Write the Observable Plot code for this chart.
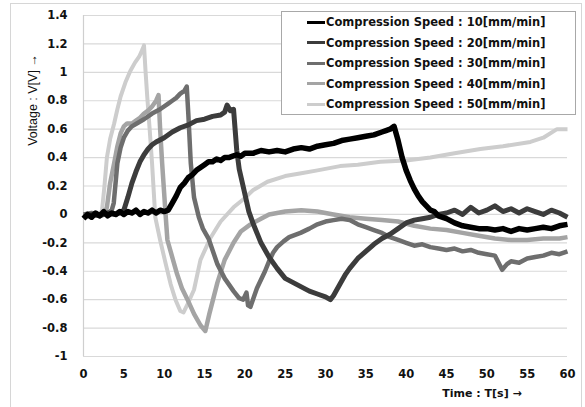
<!DOCTYPE html>
<html>
<head>
<meta charset="utf-8">
<script src="https://cdn.jsdelivr.net/npm/d3@7"></script>
<script src="https://cdn.jsdelivr.net/npm/@observablehq/plot@0.6"></script>
<style>
  html, body { margin: 0; padding: 0; background: #fff; overflow: hidden; }
  #wrap { position: relative; width: 585px; height: 407px; overflow: hidden; font-family: "DejaVu Sans", sans-serif; }
  #frame { position: absolute; left: 10px; top: 3px; width: 572px; height: 430px; border: 1px solid #d6d6d6; box-sizing: border-box; pointer-events: none; }
  #chart { position: absolute; left: 0; top: 0; }
  #legend { position: absolute; left: 281px; top: 11px; width: 295px; height: 104px; border: 1px solid #a8a8a8; background: #fff; box-sizing: border-box; }
  .row { position: absolute; left: 0; height: 20px; display: flex; align-items: center; font-weight: bold; font-size: 11.5px; color: #111; white-space: nowrap; }
  .sw { width: 18px; height: 3px; margin-left: 25px; margin-right: 1px; }
  #ylab { position: absolute; left: 33px; top: 100px; transform: translate(-50%, -50%) rotate(-90deg); font-family: "Liberation Sans", sans-serif; font-size: 12.5px; color: #111; white-space: nowrap; }
  #xlab { position: absolute; left: 482px; top: 393px; transform: translate(-50%, -50%); font-size: 11px; font-weight: bold; color: #111; white-space: nowrap; }
</style>
</head>
<body>
<div id="wrap">
  <div id="frame"></div>
  <div id="chart"></div>
  <div id="legend"></div>
  <div id="ylab"></div>
  <div id="xlab"></div>
</div>
<script>
// ---- data (time [s], voltage [V]) ----
const speed10 = [
  [0,-0.03],[0.5,0.0],[1,-0.02],[1.5,0.01],[2,-0.01],[2.5,0.02],[3,-0.01],[3.5,0.01],[4,0.0],[4.5,0.02],
  [5,0.0],[5.5,0.02],[6,0.01],[6.5,0.03],[7,0.0],[7.5,0.02],[8,0.01],[8.5,0.03],[9,0.01],[9.5,0.03],
  [10,0.02],[10.5,0.03],[11,0.08],[11.5,0.13],[12,0.19],[12.5,0.22],[13,0.26],[13.5,0.28],[14,0.31],
  [14.5,0.33],[15,0.35],[15.5,0.37],[16,0.37],[16.5,0.39],[17,0.38],[17.5,0.4],[18,0.4],[18.5,0.41],
  [19,0.42],[19.5,0.41],[20,0.43],[21,0.43],[22,0.45],[23,0.44],[24,0.45],[25,0.44],[26,0.46],[27,0.47],
  [28,0.46],[29,0.48],[30,0.49],[31,0.5],[32,0.52],[33,0.53],[34,0.54],[35,0.55],[36,0.56],[37,0.58],
  [37.5,0.59],[38,0.6],[38.5,0.62],[39,0.52],[39.5,0.4],[40,0.31],[40.5,0.24],[41,0.18],[41.5,0.13],
  [42,0.09],[42.5,0.06],[43,0.03],[43.5,0.02],[44,-0.01],[45,-0.03],[46,-0.06],[47,-0.08],[48,-0.09],
  [49,-0.1],[50,-0.1],[51,-0.11],[52,-0.1],[53,-0.12],[54,-0.1],[55,-0.11],[56,-0.1],[57,-0.09],
  [58,-0.1],[59,-0.08],[60,-0.07]
];
const speed20 = [
  [0,-0.02],[1,0.0],[2,-0.01],[3,0.01],[4,0.0],[4.5,0.01],[5,0.03],[5.5,0.12],[6,0.22],[6.5,0.3],
  [7,0.37],[7.5,0.42],[8,0.46],[8.5,0.49],[9,0.51],[10,0.54],[11,0.58],[12,0.61],[13,0.63],[14,0.66],
  [15,0.67],[16,0.69],[17,0.7],[17.5,0.72],[17.8,0.77],[18.2,0.73],[18.6,0.74],[19,0.45],[19.3,0.32],
  [19.9,0.17],[20.5,0.02],[21,-0.06],[22,-0.2],[23,-0.3],[24,-0.38],[25,-0.45],[26,-0.48],[27,-0.51],
  [28,-0.54],[29,-0.56],[30,-0.58],[30.6,-0.6],[31,-0.57],[31.8,-0.49],[32.5,-0.42],[33,-0.38],
  [34,-0.31],[35,-0.26],[36,-0.21],[37,-0.17],[38,-0.14],[39,-0.1],[40,-0.06],[41,-0.04],[42,-0.03],
  [43,-0.02],[44,0.0],[45,0.01],[46,0.03],[47,0.0],[48,0.05],[49,0.01],[50,0.03],[51,0.06],[52,0.02],
  [53,0.04],[54,0.01],[55,0.04],[56,0.02],[57,0.0],[58,0.03],[59,0.01],[60,-0.02]
];
const speed30 = [
  [0,0.0],[1,0.01],[2,0.0],[3,0.01],[3.5,0.03],[3.75,0.08],[4.2,0.36],[4.6,0.47],[5,0.54],[5.5,0.59],
  [6,0.62],[6.6,0.64],[7.5,0.67],[8.5,0.71],[9.5,0.74],[10.5,0.78],[11,0.8],[11.5,0.82],[12,0.85],
  [12.5,0.87],[12.8,0.9],[13,0.7],[13.3,0.36],[13.7,0.12],[14.3,-0.02],[14.8,-0.1],[15.5,-0.17],
  [16.6,-0.35],[17.5,-0.45],[18.6,-0.54],[19.3,-0.59],[19.8,-0.6],[20.2,-0.55],[20.4,-0.64],[20.7,-0.65],
  [21,-0.6],[21.5,-0.52],[22,-0.46],[22.5,-0.4],[23,-0.33],[23.5,-0.27],[24,-0.23],[24.8,-0.19],
  [25.5,-0.16],[26.9,-0.13],[28,-0.1],[29,-0.07],[30,-0.05],[31,-0.04],[32,-0.03],[33,-0.04],[34,-0.07],
  [35,-0.09],[36,-0.11],[37,-0.13],[38,-0.16],[39,-0.18],[40,-0.2],[41,-0.22],[42,-0.21],[43,-0.23],
  [44,-0.24],[45,-0.25],[46,-0.24],[47,-0.26],[48,-0.25],[49,-0.27],[50,-0.28],[51,-0.29],[51.9,-0.39],
  [52.5,-0.35],[53,-0.33],[54,-0.34],[55,-0.31],[56,-0.3],[57,-0.29],[58,-0.27],[59,-0.28],[60,-0.26]
];
const speed40 = [
  [0,0.0],[2.5,0.0],[2.9,0.05],[3.3,0.22],[3.8,0.36],[4.2,0.48],[4.6,0.57],[5,0.62],[5.4,0.64],[6,0.64],
  [6.5,0.66],[7,0.68],[7.5,0.71],[8,0.73],[8.5,0.76],[9,0.8],[9.3,0.84],[9.5,0.6],[9.75,0.36],[10.2,-0.02],
  [10.4,-0.18],[11,-0.3],[11.6,-0.42],[12.2,-0.52],[12.9,-0.6],[13.7,-0.7],[14.5,-0.78],[15.1,-0.82],
  [15.6,-0.7],[16.6,-0.48],[17.5,-0.32],[18.6,-0.2],[19.5,-0.12],[20.7,-0.07],[22,-0.03],[23,0.0],
  [25,0.02],[27,0.03],[29,0.02],[31,0.0],[33,-0.02],[35,-0.03],[37,-0.04],[39,-0.05],[41,-0.08],
  [43,-0.1],[45,-0.11],[47,-0.13],[49,-0.15],[51,-0.17],[53,-0.18],[55,-0.18],[57,-0.17],[59,-0.17],[60,-0.16]
];
const speed50 = [
  [0,0.0],[2,0.0],[2.3,0.03],[2.6,0.2],[2.9,0.4],[3.3,0.53],[3.8,0.64],[4.2,0.74],[4.6,0.83],[5.2,0.93],
  [5.8,1.01],[6.4,1.07],[6.9,1.11],[7.3,1.16],[7.5,1.19],[7.7,1.0],[7.9,0.83],[8.2,0.6],[8.5,0.36],
  [8.9,-0.02],[9.5,-0.18],[10.2,-0.35],[10.8,-0.49],[11.4,-0.6],[12,-0.68],[12.4,-0.69],[13,-0.62],
  [13.7,-0.53],[14.5,-0.32],[15.7,-0.17],[17,-0.05],[18.6,0.05],[19.9,0.11],[21,0.17],[22.8,0.23],
  [25,0.27],[27,0.29],[29,0.31],[31.8,0.34],[34,0.35],[36.8,0.37],[40,0.38],[43,0.4],[46,0.43],
  [49.2,0.46],[52,0.48],[55.4,0.51],[57,0.54],[58.7,0.6],[60,0.6]
];

const seriesLabels = [
  "Compression Speed : 10[mm/min]",
  "Compression Speed : 20[mm/min]",
  "Compression Speed : 30[mm/min]",
  "Compression Speed : 40[mm/min]",
  "Compression Speed : 50[mm/min]"
];
const seriesColors = ["#000000", "#3c3c3c", "#6e6e6e", "#a4a4a4", "#cdcdcd"];
const seriesWidths = [5.5, 5, 4.5, 4.5, 4];
const seriesData = [speed10, speed20, speed30, speed40, speed50];

const xTicks = [0, 5, 10, 15, 20, 25, 30, 35, 40, 45, 50, 55, 60];
const yTicks = [-1, -0.8, -0.6, -0.4, -0.2, 0, 0.2, 0.4, 0.6, 0.8, 1, 1.2, 1.4];
const yTickLabels = ["-1", "-0.8", "-0.6", "-0.4", "-0.2", "0", "0.2", "0.4", "0.6", "0.8", "1", "1.2", "1.4"];
const xTitle = "Time : T[s] \u2192";
const yTitle = "Voltage : V[V] \u2192";

// ---- chart ----
const lineMarks = [];
for (let i = seriesData.length - 1; i >= 0; i--) {
  lineMarks.push(Plot.line(seriesData[i], {
    x: d => d[0], y: d => d[1],
    stroke: seriesColors[i], strokeWidth: seriesWidths[i],
    strokeLinejoin: "round", strokeLinecap: "butt"
  }));
}

const chart = Plot.plot({
  width: 585,
  height: 407,
  marginLeft: 83,
  marginRight: 18,
  marginTop: 15,
  marginBottom: 51,
  style: { fontFamily: "DejaVu Sans, sans-serif", fontSize: "11.5px", fontWeight: "bold", color: "#111", background: "transparent" },
  x: { domain: [0, 60], ticks: xTicks, tickSize: 0, tickPadding: 13, label: null, tickFormat: d => String(d) },
  y: { domain: [-1, 1.4], ticks: yTicks, tickSize: 0, tickPadding: 16, label: null,
       tickFormat: d => yTickLabels[yTicks.findIndex(t => Math.abs(t - d) < 1e-9)] },
  marks: [
    Plot.ruleY(yTicks, { stroke: "#d9d9d9", strokeWidth: 1.2 }),
    Plot.ruleX([0], { stroke: "#cfcfcf", strokeWidth: 1.2 }),
    ...lineMarks
  ]
});
document.getElementById("chart").appendChild(chart);

// ---- legend ----
const legend = document.getElementById("legend");
seriesLabels.forEach((lab, i) => {
  const row = document.createElement("div");
  row.className = "row";
  row.style.top = (i * 20.5) + "px";
  const sw = document.createElement("div");
  sw.className = "sw";
  sw.style.background = seriesColors[i];
  const tx = document.createElement("span");
  tx.textContent = lab;
  row.appendChild(sw);
  row.appendChild(tx);
  legend.appendChild(row);
});
document.getElementById("xlab").textContent = xTitle;
document.getElementById("ylab").textContent = yTitle;
</script>
</body>
</html>
